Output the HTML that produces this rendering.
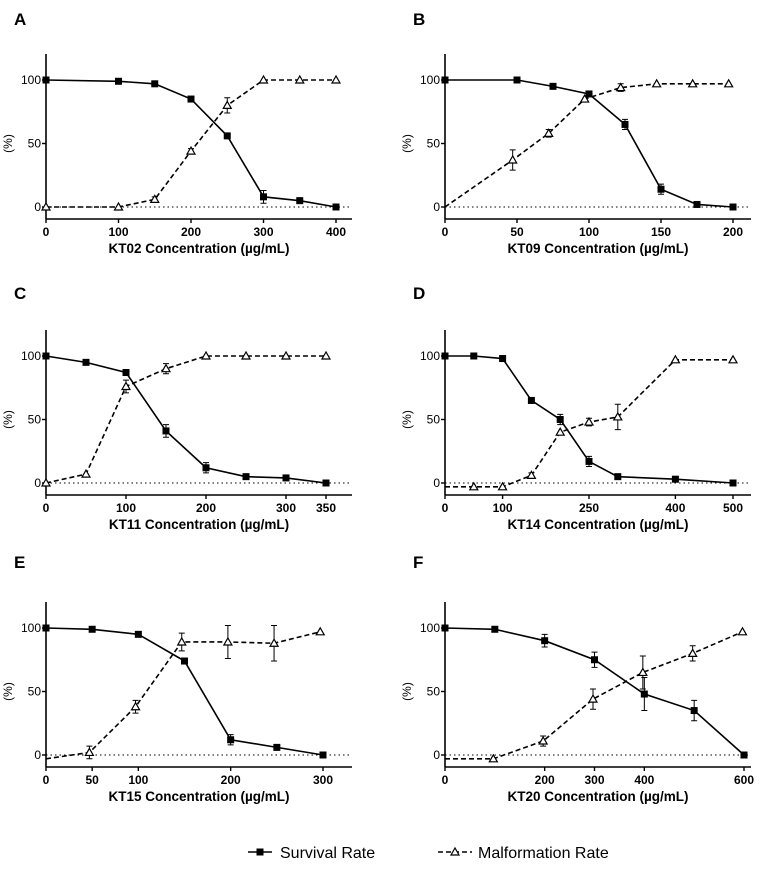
<!DOCTYPE html>
<html><head><meta charset="utf-8"><style>
body{margin:0;background:#fff;font-family:"Liberation Sans",sans-serif}
svg text{font-family:"Liberation Sans",sans-serif}
</style></head><body>
<svg id="c" width="770" height="886"></svg>
<script>
const panelLetters=['A','B','C','D','E','F'];
const panelCompounds=['KT02','KT09','KT11','KT14','KT15','KT20'];
const xTicksA=[0,100,200,300,400], xTicksB=[0,50,100,150,200], xTicksC=[0,100,200,300,350], xTicksD=[0,100,250,400,500], xTicksE=[0,50,100,200,300], xTicksF=[0,200,300,400,600];
const yTicks=[0,50,100];
const survXA=[0,100,150,200,250,300,350,400], survA=[100,99,97,85,56,8,5,0], survErrA=[0,0,0,2,0,5,2,0];
const malXA=[0,100,150,200,250,300,350,400], malA=[0,0,6,44,80,100,100,100], malErrA=[0,0,2,2,6,0,0,0];
const survXB=[0,50,75,100,125,150,175,200], survB=[100,100,95,89,65,14,2,0], survErrB=[0,0,0,2,4,4,0,0];
const malXB=[0,47,72,97,122,147,172,197], malB=[0,37,58,85,94,97,97,97], malErrB=[0,8,3,0,3,0,0,0];
const survXC=[0,50,100,150,200,250,300,350], survC=[100,95,87,41,12,5,4,0], survErrC=[0,0,0,5,4,0,0,0];
const malXC=[0,50,100,150,200,250,300,350], malC=[0,7,76,90,100,100,100,100], malErrC=[0,0,5,4,0,0,0,0];
const survXD=[0,50,100,150,200,250,300,400,500], survD=[100,100,98,65,50,17,5,3,0], survErrD=[0,0,0,2,4,4,0,0,0];
const malXD=[0,50,100,150,200,250,300,400,500], malD=[-3,-3,-3,6,40,48,52,97,97], malErrD=[0,0,0,2,0,3,10,0,0];
const survXE=[0,50,100,150,200,250,300], survE=[100,99,95,74,12,6,0], survErrE=[0,0,2,0,4,0,0];
const malXE=[0,47,97,147,197,247,297], malE=[-3,2,38,89,89,88,97], malErrE=[0,5,5,7,13,14,0];
const survXF=[0,100,200,300,400,500,600], survF=[100,99,90,75,48,35,0], survErrF=[0,0,5,6,13,8,0];
const malXF=[0,97,197,297,397,497,597], malF=[-3,-3,11,44,65,80,97], malErrF=[0,0,4,8,13,6,0];

const svg=document.getElementById('c');
const NS='http://www.w3.org/2000/svg';
function mk(tag,attrs,parent){const e=document.createElementNS(NS,tag);for(const k in attrs)e.setAttribute(k,attrs[k]);(parent||svg).appendChild(e);return e;}

const panels=[
 {x0:46,xmax:400,xEnd:336,y100:80,letter:[14,25],tick:xTicksA,sx:survXA,s:survA,se:survErrA,mx:malXA,m:malA,me:malErrA,firstMark:true},
 {x0:445,xmax:200,xEnd:733,y100:80,letter:[413,25],tick:xTicksB,sx:survXB,s:survB,se:survErrB,mx:malXB,m:malB,me:malErrB,firstMark:false},
 {x0:46,xmax:350,xEnd:326,y100:356,letter:[14,299],tick:xTicksC,sx:survXC,s:survC,se:survErrC,mx:malXC,m:malC,me:malErrC,firstMark:true},
 {x0:445,xmax:500,xEnd:733,y100:356,letter:[413,299],tick:xTicksD,sx:survXD,s:survD,se:survErrD,mx:malXD,m:malD,me:malErrD,firstMark:false},
 {x0:46,xmax:300,xEnd:323,y100:628,letter:[14,568],tick:xTicksE,sx:survXE,s:survE,se:survErrE,mx:malXE,m:malE,me:malErrE,firstMark:false},
 {x0:445,xmax:600,xEnd:744,y100:628,letter:[413,568],tick:xTicksF,sx:survXF,s:survF,se:survErrF,mx:malXF,m:malF,me:malErrF,firstMark:false}
];

panels.forEach((p,i)=>{
  const g=mk('g',{});
  
  
  const X=v=>p.x0+v/p.xmax*(p.xEnd-p.x0);
  const Y=v=>p.y100+(100-v)/100*127;
  const y0=Y(0), axY=y0+12, top=p.y100-26, right=p.x0+306;
  const L=mk('text',{x:p.letter[0],y:p.letter[1],'font-size':17,'font-weight':'bold'},g);L.textContent=panelLetters[i];
  
  const ya=mk('line',{x1:p.x0,y1:top,x2:p.x0,y2:axY,stroke:'#000','stroke-width':1.6},g);
  
  const xa=mk('line',{x1:p.x0,y1:axY,x2:right,y2:axY,stroke:'#000','stroke-width':1.6},g);
  
  const zl=mk('line',{x1:p.x0,y1:y0,x2:right,y2:y0,stroke:'#000','stroke-width':1,'stroke-dasharray':'1.5,3'},g);
  
  yTicks.forEach(t=>{
    mk('line',{x1:p.x0-4,y1:Y(t),x2:p.x0,y2:Y(t),stroke:'#000','stroke-width':1.4},g);
    const tt=mk('text',{x:p.x0-5,y:Y(t)+4,'font-size':12,'text-anchor':'end'},g);tt.textContent=t;
    
  });
  p.tick.forEach(t=>{
    mk('line',{x1:X(t),y1:axY,x2:X(t),y2:axY+4,stroke:'#000','stroke-width':1.4},g);
    const tt=mk('text',{x:X(t),y:axY+17,'font-size':12,'font-weight':'bold','text-anchor':'middle'},g);tt.textContent=t;
    
  });
  const yl=mk('text',{x:0,y:0,'font-size':12,'text-anchor':'middle',transform:`translate(${p.x0-34},${(Y(50))}) rotate(-90)`},g);yl.textContent='(%)';
  
  const xl=mk('text',{x:(p.x0+right)/2,y:axY+34,'font-size':13.5,'font-weight':'bold','text-anchor':'middle'},g);xl.textContent=panelCompounds[i]+' Concentration (\u00b5g/mL)';
  
  const mp=mk('polyline',{points:p.mx.map((v,j)=>X(v)+','+Y(p.m[j])).join(' '),fill:'none',stroke:'#000','stroke-width':1.6,'stroke-dasharray':'5,3'},g);
  
  p.mx.forEach((v,j)=>{
    const cx=X(v),cy=Y(p.m[j]),e=p.me[j];
    if(e>0){const eb=mk('path',{d:`M${cx},${Y(p.m[j]+e)}V${Y(p.m[j]-e)}M${cx-3},${Y(p.m[j]+e)}h6M${cx-3},${Y(p.m[j]-e)}h6`,stroke:'#000','stroke-width':1,fill:'none'},g);
      }
    if(j===0&&!p.firstMark)return;
    const tr=mk('polygon',{points:`${cx},${cy-4} ${cx-4},${cy+3} ${cx+4},${cy+3}`,fill:'#fff',stroke:'#000','stroke-width':1.2},g);
    
  });
  const sp=mk('polyline',{points:p.sx.map((v,j)=>X(v)+','+Y(p.s[j])).join(' '),fill:'none',stroke:'#000','stroke-width':1.6},g);
  
  p.sx.forEach((v,j)=>{
    const cx=X(v),cy=Y(p.s[j]),e=p.se[j];
    if(e>0){const eb=mk('path',{d:`M${cx},${Y(p.s[j]+e)}V${Y(p.s[j]-e)}M${cx-3},${Y(p.s[j]+e)}h6M${cx-3},${Y(p.s[j]-e)}h6`,stroke:'#000','stroke-width':1,fill:'none'},g);
      }
    const r=mk('rect',{x:cx-3.5,y:cy-3.5,width:7,height:7,fill:'#000'},g);
    
  });
});
</script>
<svg style="position:absolute;left:0;top:830px" width="770" height="50">
  <g>
    <line x1="248" y1="22" x2="272" y2="22" stroke="#000" stroke-width="1.6"/>
    <rect x="256.5" y="18.5" width="7" height="7" fill="#000"/>
    <text x="280" y="28" font-size="16">Survival Rate</text>
  </g>
  <g>
    <line x1="438" y1="22" x2="472" y2="22" stroke="#000" stroke-width="1.6" stroke-dasharray="5,3"/>
    <polygon points="455,18 451,25 459,25" fill="#fff" stroke="#000" stroke-width="1.2"/>
    <text x="478" y="28" font-size="16">Malformation Rate</text>
  </g>
</svg>
</body></html>
